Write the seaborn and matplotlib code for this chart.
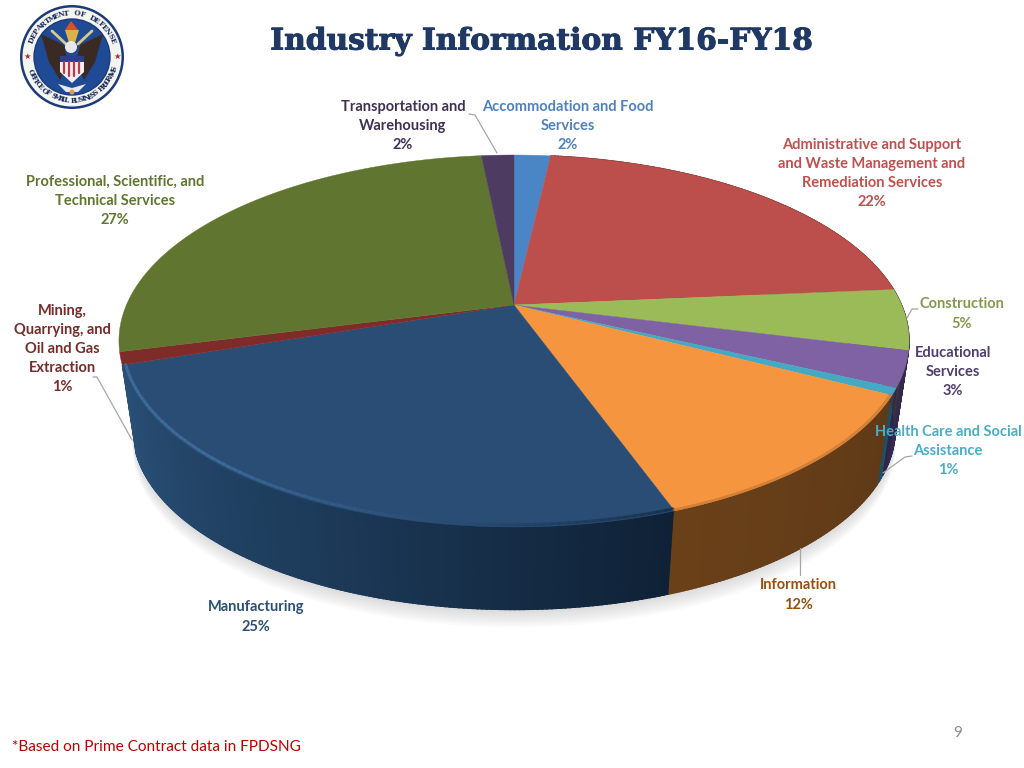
import numpy as np
import matplotlib
matplotlib.use('Agg')
import matplotlib.pyplot as plt
import matplotlib.patheffects as pe
from matplotlib.patches import Circle, Polygon
import seaborn as sns

# slice shares, clockwise from 12 o'clock
categories = ['Accommodation and Food\nServices',
              'Administrative and Support\nand Waste Management and\nRemediation Services',
              'Construction',
              'Educational\nServices',
              'Health Care and Social\nAssistance',
              'Information',
              'Manufacturing',
              'Mining,\nQuarrying, and\nOil and Gas\nExtraction',
              'Professional, Scientific, and\nTechnical Services',
              'Transportation and\nWarehousing']
values = [1.8, 21.8, 5.3, 3.1, 0.6, 11.9, 25.4, 1.1, 27.4, 1.6]
shown_pct = ['2%', '22%', '5%', '3%', '1%', '12%', '25%', '1%', '27%', '2%']
top_colors = ['#4A86C6', '#BC4E4C', '#9BBB59', '#7F62A3', '#45A9C4',
              '#F5953F', '#2A4D75', '#7E2B29', '#5F7530', '#4D3B62']
wall_colors = [('#2f5680', '#2f5680'), ('#7a3331', '#7a3331'), ('#3f4a35', '#33284a'),
               ('#3f3160', '#2f2548'), ('#1f5f73', '#1c5063'), ('#5f3a18', '#6a4018'),
               ('#0f2136', '#1d3b5a', '#2a5078'), ('#8a2b2b', '#8a2b2b'), ('#44552a', '#44552a'),
               ('#33284a', '#33284a')]
text_colors = ['#4F81BD', '#C0504D', '#83994C', '#4F3D6E', '#4BACC6',
               '#98500F', '#2A5078', '#772C2A', '#5F7530', '#3F3151']
label_xy = [(568, 126), (872, 173.5), (962, 314), (953, 372), (948, 451),
            (798, 595), (256, 617), (62, 349), (115, 201), (403, 126)]
leaders = [None, None,
           [(918, 309), (912, 309), (907, 318)],
           None,
           [(912, 456), (905, 457), (883, 473)],
           [(800, 548), (800, 575)],
           None,
           [(93, 377), (97, 377), (132, 440)],
           None,
           [(469, 114), (475, 115), (497, 153)]]

# perspective of the disc in pixel coordinates
CX, CY = 514, 305
A, B, C = 387.6, 179.0, 0.1935
DROP_Y, SHRINK = 90, 0.965


def project(theta, r=1.0, bottom=False):
    # theta in radians clockwise from the top of the disc
    u, v = r * np.sin(theta), r * np.cos(theta)
    w = 1 + C * v
    if bottom:
        return CX + SHRINK * A * u / w, CY + DROP_Y - 0.967 * B * v / w
    return CX + A * u / w, CY - B * v / w


sns.set_theme(style='white')
plt.rcParams['font.family'] = ['Lato', 'DejaVu Sans']
fig = plt.figure(figsize=(10.24, 7.68), dpi=100, facecolor='white')
ax = fig.add_axes([0, 0, 1, 1])
ax.set_xlim(0, 1024)
ax.set_ylim(768, 0)
ax.axis('off')

cum = np.concatenate([[0], np.cumsum(values)]) / np.sum(values) * 2 * np.pi

# soft shadow under the pie
t = np.linspace(np.radians(95), np.radians(265), 120)
for grow in range(1, 9):
    sx, sy = project(t, bottom=True)
    sy = sy + grow * 2.2
    ax.add_patch(Polygon(np.column_stack([sx, sy]), closed=True, fc='#808080',
                         ec='none', alpha=0.035, zorder=1))

# side walls, split in strips so the shade can change along the rim
for i in range(len(values)):
    t0, t1 = cum[i], cum[i + 1]
    if t1 < np.radians(80) or t0 > np.radians(250):
        continue
    n = max(int((t1 - t0) / 0.01), 2)
    shades = sns.blend_palette(list(wall_colors[i]), n)
    edges = np.linspace(t0, t1, n + 1)
    for k in range(n):
        seg = np.linspace(edges[k], min(edges[k + 1] + 0.006, t1), 3)
        xa, ya = project(seg)
        xb, yb = project(seg, bottom=True)
        ax.fill(np.r_[xa, xb[::-1]], np.r_[ya, yb[::-1]], color=shades[k], lw=0.8, zorder=2 + k * 1e-4)

# top faces
for i in range(len(values)):
    seg = np.linspace(cum[i], cum[i + 1], 80)
    x, y = project(seg)
    ax.fill(np.r_[CX, x], np.r_[CY, y], color=top_colors[i], lw=0.3, zorder=3)

# soft bevel on the front rim, manufacturing goes from dark to light
seg = np.linspace(cum[6], cum[7], 91)
x, y = project(seg, r=0.992)
bevel = sns.blend_palette(['#16304c', '#2a5078', '#3f6c9c', '#3f6c9c'], 90)
for k in range(90):
    ax.plot(x[k:k + 2], y[k:k + 2], color=bevel[k], lw=2.2, alpha=0.8, zorder=4, solid_capstyle='round')
seg = np.linspace(cum[5], cum[6], 40)
x, y = project(seg, r=0.996)
ax.plot(x, y, color='#b9702f', lw=1.8, alpha=0.55, zorder=4)

# slice labels
for i in range(len(values)):
    ax.text(label_xy[i][0], label_xy[i][1], categories[i] + '\n' + shown_pct[i],
            color=text_colors[i], fontsize=10.5, fontweight='bold', ha='center', va='center',
            linespacing=1.46, zorder=6)
    if leaders[i] is not None:
        ax.plot(*zip(*leaders[i]), color='#a6a6a6', lw=0.9, zorder=5)

# title, footnote, page number
ax.text(542, 41, 'Industry Information FY16-FY18', family='DejaVu Serif', fontsize=21.4,
        fontweight='bold', color='#1F3864', ha='center', va='center',
        path_effects=[pe.withStroke(linewidth=0.7, foreground='#1F3864')])
ax.text(12, 747, '*Based on Prime Contract data in FPDSNG', color='#C00000', fontsize=11.1,
        ha='left', va='center')
ax.text(958, 733, '9', color='#8a8a8a', fontsize=11, ha='center', va='center')

# seal in the top left corner
SX, SY = 72, 57
ax.add_patch(Circle((SX, SY), 52, fc='#1d3a78', ec='none', zorder=2))
ax.add_patch(Circle((SX, SY), 49.5, fc='#f4f4f0', ec='none', zorder=2))
ax.add_patch(Circle((SX, SY), 38, fc='#1f4a96', ec='#1d3a78', lw=1, zorder=2))


def ring_text(text, start, stop, radius, flip=False):
    for ch, a in zip(text, np.radians(np.linspace(start, stop, len(text)))):
        rot = -np.degrees(a) + (180 if flip else 0)
        ax.text(SX + radius * np.sin(a), SY - radius * np.cos(a), ch, family='DejaVu Serif',
                fontsize=5.2, fontweight='bold', color='#1d2f5c', rotation=rot,
                rotation_mode='anchor', ha='center', va='center', zorder=3)


ring_text('DEPARTMENT OF DEFENSE', -68, 68, 43.5)
ring_text('OFFICE OF SMALL BUSINESS PROGRAMS', 250, 106, 43.5, flip=True)
ax.text(27, 56, '\u2605', color='#b02a2a', fontsize=6, ha='center', va='center', zorder=3)
ax.text(117, 56, '\u2605', color='#b02a2a', fontsize=6, ha='center', va='center', zorder=3)

# wings, torch and shield of the seal
ax.add_patch(Polygon([(41, 34), (64, 45), (68, 62), (60, 80), (49, 62)], fc='#3a2a24', ec='none', zorder=3))
ax.add_patch(Polygon([(103, 34), (80, 45), (76, 62), (84, 80), (95, 62)], fc='#3a2a24', ec='none', zorder=3))
ax.plot([52, 66], [31, 44], color='#d9c98a', lw=2, zorder=3)
ax.plot([92, 78], [31, 44], color='#d9c98a', lw=2, zorder=3)
ax.add_patch(Polygon([(65, 30), (79, 30), (74, 46), (70, 46)], fc='#d9b24a', ec='none', zorder=3))
ax.add_patch(Polygon([(65, 30), (71, 21), (78, 30)], fc='#d9531e', ec='none', zorder=3))
ax.add_patch(Circle((71, 47), 6, fc='#e8e8e8', ec='none', zorder=3))
ax.add_patch(Polygon([(60, 56), (84, 56), (84, 72), (72, 83), (60, 72)], fc='#f0f0f0', ec='none', zorder=4))
ax.add_patch(Polygon([(60, 56), (84, 56), (84, 62), (60, 62)], fc='#2a3f8f', ec='none', zorder=5))
for sx in [63, 68, 73, 78]:
    ax.plot([sx + 1, sx + 1], [62, 76 if 66 < sx < 76 else 73], color='#c0394a', lw=1.6, zorder=5)
ax.add_patch(Polygon([(58, 84), (72, 88), (86, 84), (78, 92), (66, 92)], fc='#e8e8e8', ec='none', zorder=3))
ax.add_patch(Circle((72, 92), 2.5, fc='#d9a53a', ec='none', zorder=3))

sns.despine(ax=ax, left=True, bottom=True)
fig.savefig('out.png', dpi=100)
